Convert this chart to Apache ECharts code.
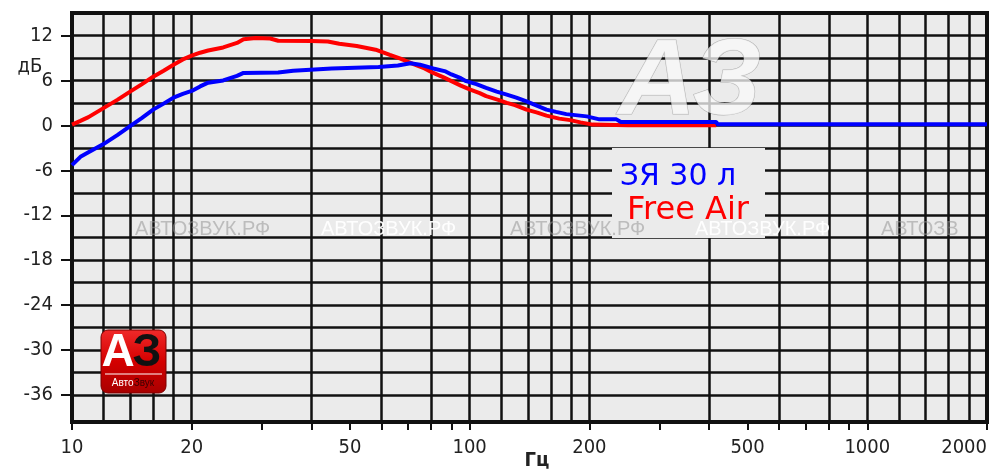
<!DOCTYPE html>
<html>
<head>
<meta charset="utf-8">
<script src="https://cdn.jsdelivr.net/npm/echarts@6/dist/echarts.min.js"></script>
<style>
html,body{margin:0;padding:0;background:#fff;}
#chart{width:995px;height:470px;}
</style>
</head>
<body>
<div id="chart"></div>
<script>
// ---- data ----
const redFreq = [10, 10.5, 11, 12, 13, 14, 15, 16, 17, 18, 19, 20, 21, 22, 24, 26, 27, 29, 31.5, 33, 40, 44, 47, 52, 58, 63, 67, 72, 77, 81, 86, 90, 95, 100, 106, 110, 118, 124, 130, 139, 148, 156, 168, 179, 190, 204, 250, 300, 350, 417];
const redDb   = [0.1, 0.6, 1.1, 2.3, 3.4, 4.5, 5.5, 6.5, 7.3, 8.1, 8.8, 9.3, 9.7, 10.0, 10.4, 11.0, 11.5, 11.65, 11.6, 11.3, 11.25, 11.2, 10.9, 10.6, 10.1, 9.4, 8.9, 8.2, 7.6, 7.0, 6.4, 5.9, 5.3, 4.8, 4.3, 3.9, 3.4, 3.0, 2.7, 2.1, 1.7, 1.3, 0.9, 0.7, 0.4, 0.1, 0.0, 0.0, 0.0, 0.0];

const blueFreq = [10, 10.5, 11, 12, 13, 14, 15, 16, 17, 18, 19, 20, 21, 22, 24, 26, 27, 33, 36, 45, 59, 66, 71, 75, 81, 87, 90, 95, 98, 104, 110, 117, 124, 131, 139, 148, 156, 165, 175, 197, 212, 234, 240, 300, 417, 420, 600, 1000, 2000];
const blueDb   = [-5.3, -4.2, -3.6, -2.5, -1.3, -0.1, 1.0, 2.1, 2.9, 3.7, 4.2, 4.6, 5.2, 5.7, 6.0, 6.6, 7.0, 7.05, 7.3, 7.6, 7.8, 8.0, 8.3, 8.1, 7.6, 7.2, 6.8, 6.3, 5.9, 5.5, 5.0, 4.5, 4.1, 3.7, 3.2, 2.6, 2.1, 1.8, 1.5, 1.2, 0.8, 0.8, 0.45, 0.45, 0.45, 0.15, 0.15, 0.15, 0.15];

const xLabelFreqs = [10, 20, 50, 100, 200, 500, 1000, 2000];
const xTickFreqs  = [10, 20, 30, 40, 50, 60, 70, 80, 90, 100, 200, 300, 400, 500, 600, 700, 800, 900, 1000, 2000];
const xGridFreqs  = [12, 14, 16, 18, 20, 40, 60, 80, 100, 120, 140, 160, 180, 200, 400, 600, 800, 1000, 1200, 1400, 1600, 1800];
const yLabelVals  = [-36, -30, -24, -18, -12, -6, 0, 6, 12];
const yGridVals   = [-36, -33, -30, -27, -24, -21, -18, -15, -12, -9, -6, -3, 0, 3, 6, 9, 12];

const legendNames = ['ЗЯ 30 л', 'Free Air'];
const xName = 'Гц';
const yName = 'дБ';
const watermark = 'АВТОЗВУК.РФ';

// ---- build ----
const lg = v => Math.log10(v);
const XMIN = 1, XMAX = lg(2000);
const YMIN = -39.6, YMAX = 15;
const font = '"Liberation Sans Narrow", "DejaVu Sans Condensed", "Liberation Sans", sans-serif';
const pair = (fs, ds) => fs.map((f, i) => [lg(f), ds[i]]);

const chart = echarts.init(document.getElementById('chart'), null, {renderer: 'canvas'});

const wmItems = [
  {x: 135, c: 'rgba(150,150,150,0.55)'},
  {x: 321, c: 'rgba(255,255,255,0.95)'},
  {x: 510, c: 'rgba(150,150,150,0.55)'},
  {x: 695, c: 'rgba(255,255,255,0.95)'},
  {x: 881, c: 'rgba(150,150,150,0.55)'}
];

chart.setOption({
  animation: false,
  backgroundColor: '#ffffff',
  grid: {
    left: 72, right: 8, top: 13, bottom: 48, containLabel: false, outerBoundsMode: 'none',
    show: true, backgroundColor: '#ebebeb', borderColor: '#111', borderWidth: 4
  },
  xAxis: [
    {
      type: 'value', min: XMIN, max: XMAX,
      axisLine: {show: true, onZero: false, lineStyle: {color: '#111', width: 4}},
      axisTick: {show: true, customValues: xTickFreqs.map(lg), length: 8, lineStyle: {color: '#111', width: 2}},
      axisLabel: {
        show: true, customValues: xLabelFreqs.map(lg), margin: 16, alignMaxLabel: 'right',
        formatter: v => String(Math.round(Math.pow(10, v))),
        color: '#222', fontSize: 20, fontFamily: font
      },
      splitLine: {show: false}
    },
    {
      type: 'value', min: XMIN, max: XMAX, position: 'bottom',
      axisLine: {show: false}, axisLabel: {show: false},
      axisTick: {show: false, customValues: xGridFreqs.map(lg)},
      splitLine: {show: true, lineStyle: {color: '#111', width: 2.5}}
    }
  ],
  yAxis: [
    {
      type: 'value', min: YMIN, max: YMAX,
      axisLine: {show: true, onZero: false, lineStyle: {color: '#111', width: 4}},
      axisTick: {show: true, customValues: yLabelVals, length: 11, lineStyle: {color: '#111', width: 2}},
      axisLabel: {show: true, customValues: yLabelVals, margin: 19, color: '#222', fontSize: 20, fontFamily: font},
      splitLine: {show: false}
    },
    {
      type: 'value', min: YMIN, max: YMAX, position: 'left',
      axisLine: {show: false}, axisLabel: {show: false},
      axisTick: {show: false, customValues: yGridVals},
      splitLine: {show: true, lineStyle: {color: '#111', width: 2.5}}
    }
  ],
  series: [
    {
      name: legendNames[1], type: 'line', xAxisIndex: 0, yAxisIndex: 0,
      data: pair(redFreq, redDb), showSymbol: false, symbol: 'none',
      lineStyle: {color: '#ff0000', width: 4}, z: 5
    },
    {
      name: legendNames[0], type: 'line', xAxisIndex: 0, yAxisIndex: 0,
      data: pair(blueFreq, blueDb), showSymbol: false, symbol: 'none',
      lineStyle: {color: '#0000ff', width: 4}, z: 6
    }
  ],
  graphic: [
    // big faded watermark logo
    {
      type: 'text', z: 20, x: 690, y: 84,
      style: {
        text: 'АЗ', font: 'italic bold 108px "Liberation Sans", sans-serif',
        fill: 'rgba(250,250,250,0.75)', stroke: 'rgba(90,90,90,0.4)', lineWidth: 1,
        align: 'center', verticalAlign: 'middle'
      }
    },
    // legend box
    {type: 'rect', z: 20, shape: {x: 612, y: 148, width: 153, height: 90}, style: {fill: '#ebebeb'}},
    {
      type: 'text', z: 21, x: 678, y: 177,
      style: {text: legendNames[0], font: '30px "DejaVu Sans", sans-serif', fill: '#0000ff', align: 'center', verticalAlign: 'middle'}
    },
    {
      type: 'text', z: 21, x: 688, y: 211,
      style: {text: legendNames[1], font: '32px "DejaVu Sans", sans-serif', fill: '#ff0000', align: 'center', verticalAlign: 'middle'}
    },
    // repeated watermark text
    ...wmItems.map(w => ({
      type: 'text', z: 22, x: w.x, y: 229,
      style: {
        text: watermark, font: '20px "Liberation Sans", sans-serif', fill: w.c,
        verticalAlign: 'middle', width: 990 - w.x, overflow: 'truncate', ellipsis: ''
      }
    })),
    // axis names
    {type: 'text', z: 20, x: 30, y: 67, style: {text: yName, font: '20px ' + font, fill: '#222', align: 'center', verticalAlign: 'middle'}},
    {type: 'text', z: 20, x: 537, y: 461, style: {text: xName, font: 'bold 20px ' + font, fill: '#222', align: 'center', verticalAlign: 'middle'}},
    // logo bottom-left
    {
      type: 'rect', z: 20, shape: {x: 101, y: 330, width: 65, height: 63, r: 7},
      style: {
        fill: new echarts.graphic.LinearGradient(0, 0, 0, 1, [
          {offset: 0, color: '#f02a2a'}, {offset: 0.5, color: '#d40000'}, {offset: 1, color: '#a80000'}
        ]),
        stroke: '#7a0000', lineWidth: 1
      }
    },
    {type: 'text', z: 21, x: 118, y: 353, style: {text: 'А', font: 'bold 46px "Liberation Sans", sans-serif', fill: '#ffffff', align: 'center', verticalAlign: 'middle'}},
    {type: 'text', z: 21, x: 147, y: 353, style: {text: 'З', font: 'bold 46px "Liberation Sans", sans-serif', fill: '#111111', align: 'center', verticalAlign: 'middle'}},
    {type: 'line', z: 21, shape: {x1: 105, y1: 374, x2: 162, y2: 374}, style: {stroke: '#ffffff', lineWidth: 1}},
    {
      type: 'text', z: 21, x: 133, y: 383,
      style: {
        text: '{a|Авто}{b|Звук}', align: 'center', verticalAlign: 'middle',
        rich: {
          a: {font: '10px "Liberation Sans", sans-serif', fill: '#ffffff'},
          b: {font: '10px "Liberation Sans", sans-serif', fill: '#3a0000'}
        }
      }
    }
  ]
});
</script>
</body>
</html>
